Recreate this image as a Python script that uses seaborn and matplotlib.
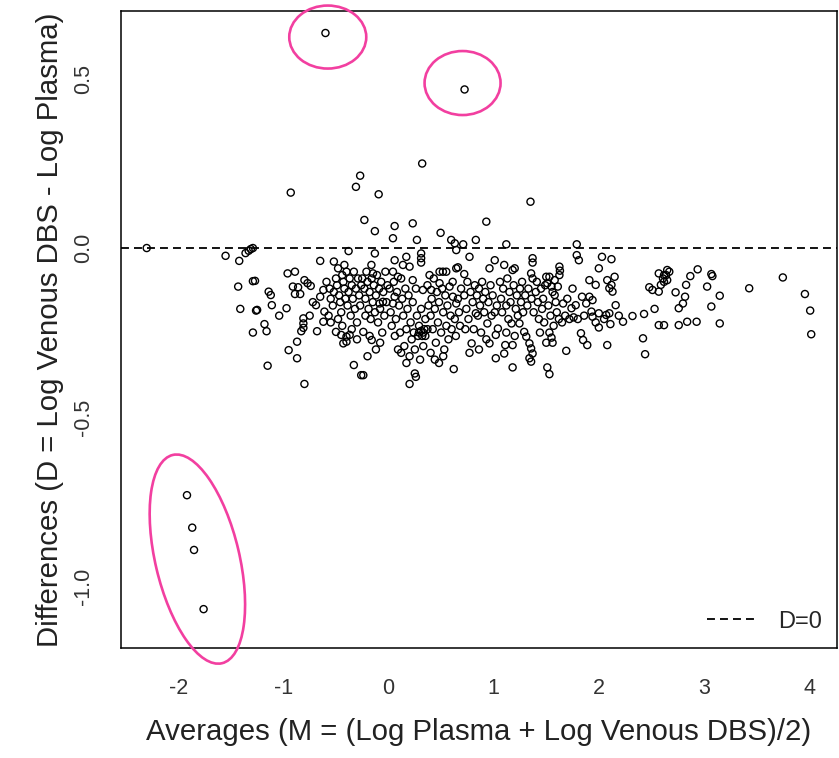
import matplotlib
matplotlib.use("Agg")
import matplotlib.pyplot as plt
import matplotlib.transforms as mtransforms
from matplotlib.patches import Ellipse
from matplotlib.lines import Line2D
import seaborn as sns
import pandas as pd

# ---------------- data ----------------
# Averages M = (Log Plasma + Log Venous DBS)/2  and  differences D
outlier_m = [-1.917, -1.867, -1.850, -1.759, -0.600, 0.723]
outlier_d = [-0.731, -0.827, -0.893, -1.068, 0.636, 0.469]

band1_m = [-2.30, -1.55, -1.42, -1.36, -1.33, -1.31, -1.29, -1.29, -1.43, -1.41, -1.26, -1.29,
           -1.27, -1.25, -1.14, -1.12, -1.11, -1.04, -1.18, -1.16, -1.15]
band1_d = [0.0, -0.023, -0.038, -0.015, -0.008, -0.003, 0.0, -0.098, -0.114, -0.18, -0.185, -0.25,
           -0.097, -0.183, -0.129, -0.139, -0.169, -0.2, -0.225, -0.246, -0.348]

band2_m = [-0.93, -0.96, -0.89, -0.80, -0.77, -0.74, -0.91, -0.86, -0.89, -0.84, -0.97, -0.81, -0.81,
           -0.81, -0.83, -0.87, -0.95, -0.87, -0.80, -0.68, -0.69, -0.65, -0.62, -0.61, -0.62, -0.65,
           -0.72, -0.75]
band2_d = [0.164, -0.075, -0.07, -0.095, -0.104, -0.112, -0.114, -0.116, -0.136, -0.136, -0.178, -0.208,
           -0.223, -0.236, -0.246, -0.277, -0.302, -0.326, -0.402, -0.246, -0.169, -0.144, -0.124, -0.188,
           -0.218, -0.038, -0.16, -0.20]

band3_m = [-0.27, -0.31, -0.23, -0.38, -0.59, -0.56, -0.55, -0.53, -0.52, -0.50, -0.49, -0.48, -0.47,
           -0.46, -0.45, -0.44, -0.43, -0.42, -0.41, -0.40, -0.39, -0.38, -0.37, -0.36, -0.35, -0.34,
           -0.33, -0.32, -0.31, -0.30, -0.29, -0.28, -0.27, -0.26, -0.55, -0.57, -0.50, -0.45, -0.40,
           -0.37, -0.43, -0.40, -0.33, -0.26, -0.48, -0.44, -0.35, -0.30, -0.52, -0.42]
band3_d = [0.214, 0.181, 0.083, -0.009, -0.10, -0.12, -0.15, -0.17, -0.13, -0.09, -0.11, -0.06, -0.14,
           -0.16, -0.19, -0.08, -0.10, -0.12, -0.15, -0.07, -0.17, -0.13, -0.09, -0.20, -0.11, -0.15,
           -0.07, -0.18, -0.12, -0.22, -0.09, -0.14, -0.17, -0.11, -0.22, -0.20, -0.248, -0.257, -0.262,
           -0.257, -0.282, -0.277, -0.346, -0.376, -0.21, -0.23, -0.24, -0.27, -0.04, -0.05]

band4_m = [-0.094, -0.13, -0.13, -0.163, -0.21, -0.148, -0.24, -0.16, -0.24, -0.053, -0.085, -0.25,
           -0.23, -0.22, -0.20, -0.19, -0.18, -0.17, -0.16, -0.15, -0.14, -0.13, -0.12, -0.11, -0.10,
           -0.09, -0.08, -0.07, -0.06, -0.05, -0.04, -0.03, -0.02, -0.01, -0.22, -0.18, -0.12, -0.08,
           -0.20]
band4_d = [0.159, 0.05, -0.016, -0.05, -0.07, -0.075, -0.248, -0.272, -0.376, -0.159, -0.164, -0.09,
           -0.12, -0.15, -0.10, -0.18, -0.13, -0.21, -0.09, -0.16, -0.11, -0.19, -0.14, -0.08, -0.22,
           -0.12, -0.18, -0.10, -0.25, -0.13, -0.20, -0.07, -0.16, -0.11, -0.20, -0.26, -0.30, -0.28,
           -0.32]

band5_m = [0.32, 0.058, 0.23, 0.042, 0.27, 0.31, 0.31, 0.31, 0.058, 0.169, 0.042, 0.089, 0.20, 0.137,
           0.23, 0.327, 0.042, 0.058, 0.25, 0.26, 0.20, 0.01, 0.02, 0.03, 0.05, 0.07, 0.08, 0.10, 0.11,
           0.12, 0.13, 0.14, 0.15, 0.16, 0.17, 0.18, 0.19, 0.20, 0.21, 0.22, 0.23, 0.24, 0.25, 0.26,
           0.27, 0.28, 0.29, 0.30, 0.31, 0.32, 0.33, 0.34, 0.35, 0.09, 0.12, 0.17, 0.06, 0.29, 0.31,
           0.33, 0.35, 0.37]
band5_d = [0.25, 0.065, 0.073, 0.029, 0.024, -0.016, -0.03, -0.043, -0.036, -0.026, -0.07, -0.085,
           -0.055, -0.05, -0.095, -0.124, -0.164, -0.144, -0.371, -0.381, -0.402, -0.12, -0.19, -0.23,
           -0.10, -0.21, -0.13, -0.17, -0.25, -0.09, -0.15, -0.20, -0.29, -0.12, -0.24, -0.18, -0.14,
           -0.32, -0.22, -0.27, -0.16, -0.25, -0.30, -0.12, -0.20, -0.26, -0.23, -0.33, -0.18, -0.26,
           -0.29, -0.24, -0.21, -0.30, -0.31, -0.34, -0.26, -0.25, -0.245, -0.25, -0.26, -0.24]

band6_m = [0.39, 0.406, 0.485, 0.58, 0.612, 0.644, 0.495, 0.596, 0.644, 0.644, 0.485, 0.517, 0.549,
           0.62, 0.63, 0.66, 0.72, 0.71, 0.37, 0.38, 0.40, 0.41, 0.42, 0.43, 0.44, 0.45, 0.46, 0.47,
           0.48, 0.50, 0.51, 0.52, 0.53, 0.54, 0.55, 0.56, 0.57, 0.59, 0.60, 0.61, 0.63, 0.64, 0.66,
           0.67, 0.68, 0.69, 0.40, 0.44, 0.48, 0.52]
band6_d = [-0.08, -0.124, -0.104, -0.114, -0.144, -0.164, 0.045, 0.024, -0.006, -0.06, -0.07, -0.07,
           -0.07, -0.358, 0.014, -0.057, -0.077, 0.011, -0.11, -0.17, -0.20, -0.15, -0.24, -0.09, -0.18,
           -0.28, -0.13, -0.22, -0.16, -0.25, -0.12, -0.19, -0.30, -0.14, -0.23, -0.17, -0.27, -0.20,
           -0.24, -0.10, -0.21, -0.26, -0.15, -0.19, -0.23, -0.12, -0.31, -0.33, -0.34, -0.32]

band7_m = [0.93, 0.83, 0.77, 1.01, 0.96, 0.83, 1.01, 0.94, 1.04, 1.02, 0.96, 0.79, 1.02, 0.72, 0.74,
           0.75, 0.76, 0.78, 0.80, 0.81, 0.82, 0.84, 0.85, 0.86, 0.87, 0.88, 0.89, 0.90, 0.91, 0.92,
           0.93, 0.95, 0.97, 0.98, 0.99, 1.03, 0.73, 0.77, 0.86]
band7_d = [0.078, 0.024, -0.026, -0.036, -0.06, -0.193, -0.19, -0.223, -0.238, -0.257, -0.282, -0.282,
           -0.326, -0.14, -0.18, -0.10, -0.21, -0.13, -0.16, -0.24, -0.11, -0.14, -0.20, -0.12, -0.17,
           -0.25, -0.10, -0.15, -0.19, -0.13, -0.27, -0.16, -0.11, -0.20, -0.14, -0.17, -0.24, -0.31,
           -0.30]

band8_m = [1.12, 1.35, 1.37, 1.37, 1.10, 1.18, 1.20, 1.356, 1.37, 1.50, 1.51, 1.58, 1.17, 1.245, 1.29,
           1.31, 1.34, 1.356, 1.37, 1.34, 1.356, 1.11, 1.18, 1.10, 1.18, 1.51, 1.53, 1.53, 1.55, 1.61,
           1.58, 1.53, 1.55, 1.56, 1.06, 1.07, 1.08, 1.09, 1.12, 1.13, 1.14, 1.15, 1.16, 1.19, 1.21,
           1.22, 1.23, 1.25, 1.26, 1.27, 1.28, 1.30, 1.32, 1.33, 1.36, 1.38, 1.40, 1.41, 1.42, 1.43,
           1.45, 1.46, 1.47, 1.48, 1.49, 1.52, 1.54, 1.56, 1.57, 1.59, 1.12, 1.20, 1.44, 1.50]
band8_d = [0.011, 0.137, -0.03, -0.043, -0.05, -0.065, -0.06, -0.075, -0.09, -0.085, -0.104, -0.095,
           -0.223, -0.223, -0.248, -0.262, -0.282, -0.297, -0.312, -0.326, -0.336, -0.287, -0.287,
           -0.312, -0.353, -0.353, -0.373, -0.085, -0.114, -0.114, -0.139, -0.25, -0.265, -0.28,
           -0.10, -0.15, -0.19, -0.12, -0.17, -0.09, -0.21, -0.13, -0.16, -0.11, -0.18, -0.14, -0.20,
           -0.12, -0.16, -0.10, -0.19, -0.14, -0.17, -0.12, -0.15, -0.19, -0.13, -0.10, -0.16, -0.21,
           -0.12, -0.18, -0.15, -0.22, -0.11, -0.17, -0.20, -0.13, -0.23, -0.16, -0.25, -0.26, -0.25,
           -0.28]

band9_m = [1.79, 1.79, 1.81, 2.03, 2.12, 2.00, 1.625, 1.63, 1.625, 1.91, 1.97, 2.08, 2.15, 2.12, 2.10,
           2.13, 1.84, 1.91, 1.94, 1.88, 1.78, 1.74, 1.66, 2.16, 1.93, 1.94, 2.00, 2.07, 2.10, 2.19,
           2.23, 2.32, 2.43, 2.53, 1.83, 1.85, 1.89, 1.69, 2.08, 2.42, 2.44, 2.57, 2.57, 2.62, 2.61,
           2.65, 2.62, 2.59, 2.48, 2.51, 2.57, 1.60, 1.62, 1.65, 1.68, 1.72, 1.76, 1.80, 1.86, 1.97,
           2.00, 2.05, 2.11, 1.70, 1.75]
band9_d = [0.011, -0.021, -0.036, -0.026, -0.033, -0.06, -0.055, -0.067, -0.08, -0.095, -0.109, -0.095,
           -0.085, -0.109, -0.119, -0.129, -0.144, -0.144, -0.154, -0.164, -0.169, -0.178, -0.164,
           -0.169, -0.188, -0.203, -0.193, -0.198, -0.193, -0.20, -0.218, -0.201, -0.195, -0.18,
           -0.252, -0.272, -0.287, -0.304, -0.287, -0.267, -0.314, -0.228, -0.075, -0.08, -0.09,
           -0.065, -0.10, -0.109, -0.116, -0.124, -0.129, -0.19, -0.21, -0.22, -0.20, -0.21, -0.205,
           -0.21, -0.20, -0.22, -0.235, -0.21, -0.225, -0.15, -0.12]

band10_m = [2.67, 2.64, 2.65, 2.94, 2.87, 2.83, 2.73, 2.82, 2.80, 2.76, 3.07, 3.08, 3.03, 3.15, 3.07,
            2.76, 2.84, 2.93, 3.15, 3.43, 3.75, 3.96, 4.01, 4.02, 2.62]
band10_d = [-0.07, -0.08, -0.095, -0.063, -0.083, -0.109, -0.131, -0.144, -0.164, -0.178, -0.077,
            -0.083, -0.114, -0.141, -0.173, -0.228, -0.218, -0.218, -0.223, -0.119, -0.087, -0.136,
            -0.185, -0.255, -0.228]

x_ticks = [-2, -1, 0, 1, 2, 3, 4]
y_ticks = [-1.0, -0.5, 0.0, 0.5]
y_tick_labels = ["-1.0", "-0.5", "0.0", "0.5"]
x_label = "Averages (M = (Log Plasma + Log Venous DBS)/2)"
y_label = "Differences (D = Log Venous DBS - Log Plasma)"
legend_label = "D=0"

# highlight ellipses: centre (data), width/height (inches), angle (deg)
ell_centres = [(-0.578, 0.624), (0.704, 0.488), (-1.818, -0.920)]
ell_sizes = [(0.77, 0.63), (0.76, 0.64), (0.84, 2.14)]
ell_angles = [0, 0, 13.3]

M = (outlier_m + band1_m + band2_m + band3_m + band4_m + band5_m + band6_m + band7_m + band8_m
     + band9_m + band10_m)
D = (outlier_d + band1_d + band2_d + band3_d + band4_d + band5_d + band6_d + band7_d + band8_d
     + band9_d + band10_d)
df = pd.DataFrame({"M": M, "D": D})

# ---------------- plot ----------------
sns.set_theme(style="white")
plt.rcParams["font.family"] = ["Liberation Sans", "DejaVu Sans"]
plt.rcParams["axes.unicode_minus"] = False

fig = plt.figure(figsize=(8.39, 7.58), dpi=100)
ax = fig.add_axes([0.1439, 0.1451, 0.8537, 0.8408])

sns.scatterplot(data=df, x="M", y="D", ax=ax, marker="o", s=26,
                facecolor="none", edgecolor="black", linewidth=1.0, zorder=3)

ax.axhline(0, color="black", lw=1.3, ls=(0, (4.4, 2.8)), zorder=2)

ax.set_xlim(-2.547, 4.265)
ax.set_ylim(-1.183, 0.702)
ax.set_xticks(x_ticks)
ax.set_xticklabels([str(t) for t in x_ticks])
ax.set_yticks(y_ticks)
ax.set_yticklabels(y_tick_labels, rotation=90, va="center")

for sp in ax.spines.values():
    sp.set_color("black")
    sp.set_linewidth(1.1)
ax.tick_params(axis="both", direction="out", length=10.5, width=1.1, color="black",
               labelsize=15.5, labelcolor="#333333")
ax.tick_params(axis="x", pad=11)
ax.tick_params(axis="y", pad=9)

ax.set_xlabel(x_label, fontsize=21.2, color="#222222", labelpad=14)
ax.set_ylabel(y_label, fontsize=21.2, color="#222222", labelpad=6)

handle = Line2D([], [], color="black", lw=1.3, ls=(0, (4.4, 2.8)))
ax.legend([handle], [legend_label], loc="lower right", frameon=False, fontsize=17,
          handlelength=2.0, handletextpad=1.0, borderaxespad=0.25)

for (cx, cy), (w, h), ang in zip(ell_centres, ell_sizes, ell_angles):
    tr = fig.dpi_scale_trans + mtransforms.ScaledTranslation(cx, cy, ax.transData)
    e = Ellipse((0, 0), w, h, angle=ang, transform=tr, fill=False,
                edgecolor="#F23FA0", lw=1.9, clip_on=False, zorder=4)
    ax.add_artist(e)

fig.savefig("out.png", dpi=100)
